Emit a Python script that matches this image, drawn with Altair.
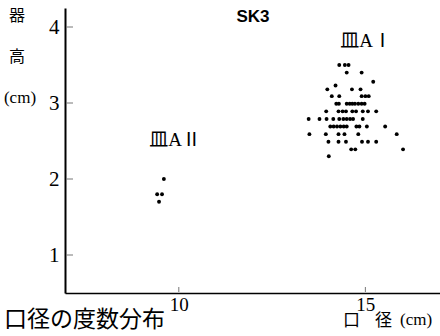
import altair as alt
import pandas as pd

# 口径 (cm) and 器高 (cm) of each vessel, group 皿AⅠ
dia_A1 = [14.30, 14.45, 14.55,
          14.50, 14.90,
          15.21,
          14.20,
          13.98, 14.64, 14.87,
          14.10, 14.30, 14.90, 15.00, 15.09,
          14.22, 14.29, 14.50, 14.58, 14.65, 14.72, 14.81, 14.90, 14.98,
          13.95, 14.28, 14.39, 14.48, 14.65, 14.75, 14.93, 15.07, 15.29,
          13.48, 13.77, 13.96, 14.14, 14.30, 14.41, 14.50, 14.59, 14.67, 14.93,
          14.06, 14.15, 14.24, 14.33, 14.42, 14.50, 14.76, 14.84, 15.04, 15.53,
          13.50, 13.94, 14.28, 14.44, 14.81, 15.84,
          14.01, 14.28, 14.48, 14.91, 15.07, 15.29,
          14.62, 14.73, 16.01,
          14.02]
hgt_A1 = [3.50, 3.50, 3.50,
          3.40, 3.40,
          3.28,
          3.23,
          3.18, 3.18, 3.18,
          3.09, 3.09, 3.09, 3.09, 3.09,
          2.99, 2.99, 2.99, 2.99, 2.99, 2.99, 2.99, 2.99, 2.99,
          2.89, 2.89, 2.89, 2.89, 2.89, 2.89, 2.89, 2.89, 2.89,
          2.79, 2.79, 2.79, 2.79, 2.79, 2.79, 2.79, 2.79, 2.79, 2.79,
          2.69, 2.69, 2.69, 2.69, 2.69, 2.69, 2.69, 2.69, 2.69, 2.69,
          2.59, 2.59, 2.59, 2.59, 2.59, 2.59,
          2.49, 2.49, 2.49, 2.49, 2.49, 2.49,
          2.39, 2.39, 2.39,
          2.30]

# group 皿AⅡ
dia_A2 = [9.60, 9.42, 9.55, 9.47]
hgt_A2 = [2.00, 1.80, 1.80, 1.70]

x_ticks = [10, 15]
y_ticks = [1, 2, 3, 4]

group_labels = ["皿AⅠ", "皿AⅡ"]
group_label_x = [15.02, 9.90]
group_label_y = [3.82, 2.51]

SERIF = "'Liberation Serif', 'Noto Sans CJK JP'"
CJK = "'Noto Sans CJK JP'"

xs = alt.Scale(domain=[6.95, 17], nice=False, zero=False)
ys = alt.Scale(domain=[0.5, 4.25], nice=False, zero=False)

pts = pd.DataFrame({"x": dia_A1 + dia_A2, "y": hgt_A1 + hgt_A2})

xaxis = alt.Axis(values=x_ticks, title=None, grid=False, ticks=False,
                 domainColor="black", domainWidth=1.5, labelFont=SERIF,
                 labelFontSize=19, labelColor="black", labelPadding=2)
yaxis = alt.Axis(values=y_ticks, title=None, grid=False, ticks=False,
                 domainColor="black", domainWidth=2, labelFont=SERIF,
                 labelFontSize=21, labelColor="black", labelPadding=6)

points = alt.Chart(pts).mark_circle(size=15, color="black", opacity=1).encode(
    x=alt.X("x:Q", scale=xs, axis=xaxis),
    y=alt.Y("y:Q", scale=ys, axis=yaxis),
)

ytick_rules = alt.Chart(pd.DataFrame({"y": y_ticks})).mark_rule(
    color="#777777", strokeWidth=1
).encode(
    y=alt.Y("y:Q", scale=ys, axis=yaxis),
    x=alt.value(1), x2=alt.value(8),
)

xtick_rules = alt.Chart(pd.DataFrame({"x": x_ticks})).mark_rule(
    color="#777777", strokeWidth=1
).encode(
    x=alt.X("x:Q", scale=xs, axis=xaxis),
    y=alt.value(284), y2=alt.value(279),
)

glabels = alt.Chart(pd.DataFrame({"x": group_label_x, "y": group_label_y,
                                  "t": group_labels})).mark_text(
    font=SERIF, fontSize=19, color="black", baseline="middle", align="center"
).encode(
    x=alt.X("x:Q", scale=xs, axis=xaxis),
    y=alt.Y("y:Q", scale=ys, axis=yaxis),
    text="t:N",
)

def free_text(txt, x, y, size, font, align="center", weight="normal"):
    return alt.Chart(pd.DataFrame({"t": [txt]})).mark_text(
        font=font, fontSize=size, color="black", align=align,
        baseline="middle", fontWeight=weight
    ).encode(x=alt.value(x), y=alt.value(y), text="t:N")

title = free_text("SK3", 188, 9, 17, "'Liberation Sans'", weight="bold")
yl1 = free_text("器", -48, 8, 16, CJK)
yl2 = free_text("高", -48, 49, 16, CJK)
yl3 = free_text("(cm)", -45, 90, 17, SERIF)
bl = free_text("口径の度数分布", -61, 312, 23, CJK, align="left")
xl1 = free_text("口", 278, 313, 17, CJK, align="left")
xl2 = free_text("径", 310, 313, 17, CJK, align="left")
xl3 = free_text("(cm)", 335, 312, 17, SERIF, align="left")

chart = alt.layer(
    ytick_rules, xtick_rules, points, glabels,
    title, yl1, yl2, yl3, bl, xl1, xl2, xl3,
).properties(
    width=375, height=285,
    autosize=alt.AutoSizeParams(type="none"),
    padding={"left": 65, "top": 8, "right": 0, "bottom": 43},
    background="white",
).configure_view(stroke=None)

chart.save("out.html", embed_options={"renderer": "svg", "actions": False})
